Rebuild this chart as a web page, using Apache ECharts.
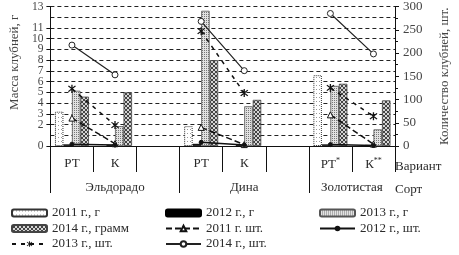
<!DOCTYPE html>
<html><head><meta charset="utf-8">
<script src="https://cdn.jsdelivr.net/npm/echarts@6/dist/echarts.min.js"></script>
<style>html,body{margin:0;padding:0;background:#fff}#c{width:459px;height:255px}</style>
</head><body><div id="c"></div>
<script>
// ---- data ----
const categories = ['РТ', 'К', '', 'РТ', 'К', '', 'РТ*', 'К**'];
const varieties = ['Эльдорадо', 'Дина', 'Золотистая'];
const varietyCenters = [1.5, 4.5, 7];
const varietyBounds = [0, 3, 6];
const mass2011 = [3.2, null, null, 1.85, null, null, 6.6, null];
const mass2012 = [0.15, 0.1, null, 0.2, 0.1, null, 0.15, 0.1];
const mass2013 = [5.15, 1.85, null, 12.6, 3.7, null, 5.6, 1.55];
const mass2014 = [4.6, 5.0, null, 8.0, 4.3, null, 5.8, 4.25];
const count2011 = [60, 5, null, 40, 3, null, 67, 4];
const count2012 = [4, 2, null, 8, 2, null, 3, 1];
const count2013 = [123, 45, null, 247, 114, null, 125, 64];
const count2014 = [217, 153, null, 268, 162, null, 285, 198];
const leftTicks = {min: 0, max: 13, step: 1};
const rightTicks = {min: 0, max: 300, step: 50};

// ---- patterns ----
function pattern(w, h, bg, fg, pts) {
  const c = document.createElement('canvas'); c.width = w; c.height = h;
  const g = c.getContext('2d'); g.fillStyle = bg; g.fillRect(0, 0, w, h);
  g.fillStyle = fg; pts.forEach(p => g.fillRect(p[0], p[1], 1, 1));
  return {image: c, repeat: 'repeat'};
}
const p2011 = pattern(3, 4, '#ffffff', '#9a9a9a', [[1, 1]]);
const p2013 = pattern(2, 2, '#e2e2e2', '#777777', [[0, 0]]);
const p2014 = pattern(4, 4, '#d4d4d4', '#444444', [[0,0],[1,1],[2,2],[3,3],[3,0],[2,1],[1,2],[0,3]]);

function asterisk() {
  const L = 10, w = 1.3; let s = 'path://';
  [90, 45, 135].forEach(a => {
    const r = a * Math.PI / 180, dx = Math.cos(r), dy = Math.sin(r), nx = -dy, ny = dx;
    const pts = [[L*dx + w*nx, L*dy + w*ny], [L*dx - w*nx, L*dy - w*ny], [-L*dx - w*nx, -L*dy - w*ny], [-L*dx + w*nx, -L*dy + w*ny]];
    s += 'M' + pts.map(p => p[0].toFixed(2) + ' ' + p[1].toFixed(2)).join(' L') + ' Z ';
  });
  return s;
}

const FONT = 'Liberation Serif';
const TXT = '#2a2a2a';
const chart = echarts.init(document.getElementById('c'), null, {renderer: 'canvas'});
const barCommon = {type: 'bar', barWidth: 8.5, barGap: '0%', xAxisIndex: 0, yAxisIndex: 0};
const lineCommon = {type: 'line', xAxisIndex: 0, yAxisIndex: 1, connectNulls: false};
const legendCommon = {orient: 'vertical', top: 206, height: 49, padding: 0, itemWidth: 35, itemHeight: 7, itemGap: 1.5,
  textStyle: {fontFamily: FONT, fontSize: 13, color: TXT, lineHeight: 14}, selectedMode: false};

chart.setOption({
  animation: false,
  textStyle: {fontFamily: FONT},
  grid: {left: 44, right: 54, top: 5, bottom: 109},
  legend: [
    Object.assign({left: 11, data: ['2011 г., г', '2014 г., грамм', '2013 г., шт.']}, legendCommon),
    Object.assign({left: 165, data: ['2012 г., г', '2011 г. шт.', '2014 г., шт.']}, legendCommon),
    Object.assign({left: 319, data: ['2013 г., г', '2012 г., шт.']}, legendCommon)
  ],
  xAxis: [{
    type: 'category', data: categories, position: 'bottom',
    axisLine: {lineStyle: {color: '#111', width: 1}},
    axisTick: {show: true, interval: 0, length: 26, lineStyle: {color: '#111'}},
    axisLabel: {interval: 0, margin: 11, fontSize: 13, color: TXT, fontFamily: FONT,
      formatter: v => { const m = v.match(/^([^*]*)(\**)$/); return m[2] ? m[1] + '{s|' + m[2] + '}' : v; },
      rich: {s: {fontSize: 8, padding: [0, 0, 7, 0], color: TXT, fontFamily: FONT}}},
    name: 'Вариант', nameLocation: 'end', nameGap: 0,
    nameTextStyle: {fontFamily: FONT, fontSize: 13, color: TXT, align: 'left', verticalAlign: 'top', padding: [14, 0, 0, 0]}
  }, {
    type: 'value', min: 0, max: categories.length, position: 'bottom',
    axisLine: {show: false}, splitLine: {show: false},
    axisTick: {show: true, customValues: varietyBounds, length: 47, lineStyle: {color: '#111'}},
    axisLabel: {customValues: varietyCenters, margin: 35, fontSize: 13, color: TXT, fontFamily: FONT,
      formatter: v => varieties[varietyCenters.indexOf(v)] || ''},
    name: 'Сорт', nameLocation: 'end', nameGap: 0,
    nameTextStyle: {fontFamily: FONT, fontSize: 13, color: TXT, align: 'left', verticalAlign: 'top', padding: [37, 0, 0, 0]}
  }],
  yAxis: [{
    type: 'value', min: leftTicks.min, max: leftTicks.max, interval: leftTicks.step,
    axisLine: {show: true, lineStyle: {color: '#111'}},
    axisTick: {show: true, length: 4, lineStyle: {color: '#111'}},
    axisLabel: {fontSize: 11.5, lineHeight: 10, color: '#444', margin: 7, fontFamily: FONT, hideOverlap: false,
      showMinLabel: true, showMaxLabel: true},
    splitLine: {show: true, lineStyle: {color: '#222', type: [4, 3], width: 1}},
    name: 'Масса клубней, г', nameLocation: 'middle', nameRotate: 90, nameGap: 29,
    nameTextStyle: {fontFamily: FONT, fontSize: 13, color: '#444', padding: [0, 0, 0, 28]}
  }, {
    type: 'value', min: rightTicks.min, max: rightTicks.max, interval: rightTicks.step, position: 'right',
    axisLine: {show: true, lineStyle: {color: '#111'}},
    axisTick: {show: true, length: 4, lineStyle: {color: '#111'}},
    minorTick: {show: true, splitNumber: 2, length: 3, lineStyle: {color: '#111'}},
    axisLabel: {fontSize: 13, color: '#444', margin: 8, fontFamily: FONT, showMaxLabel: true},
    splitLine: {show: false},
    name: 'Количество клубней, шт.', nameLocation: 'middle', nameRotate: 90, nameGap: 43,
    nameTextStyle: {fontFamily: FONT, fontSize: 13, color: '#444'}
  }],
  series: [
    Object.assign({name: '2011 г., г', data: mass2011,
      itemStyle: {color: p2011, borderColor: '#333', borderWidth: 1, borderType: 'dotted'}}, barCommon),
    Object.assign({name: '2012 г., г', data: mass2012,
      itemStyle: {color: '#000', borderColor: '#000', borderWidth: 0.5}}, barCommon),
    Object.assign({name: '2013 г., г', data: mass2013,
      itemStyle: {color: p2013, borderColor: '#555', borderWidth: 0.8}}, barCommon),
    Object.assign({name: '2014 г., грамм', data: mass2014,
      itemStyle: {color: p2014, borderColor: '#444', borderWidth: 0.8}}, barCommon),
    Object.assign({name: '2011 г. шт.', data: count2011, symbol: 'triangle', symbolSize: 6,
      lineStyle: {color: '#111', width: 1.5, type: [6, 3]},
      itemStyle: {color: '#fff', borderColor: '#111', borderWidth: 1}}, lineCommon),
    Object.assign({name: '2012 г., шт.', data: count2012, symbol: 'circle', symbolSize: 4,
      lineStyle: {color: '#111', width: 1.5},
      itemStyle: {color: '#111', borderColor: '#111'}}, lineCommon),
    Object.assign({name: '2013 г., шт.', data: count2013, symbol: asterisk(), symbolSize: 8,
      lineStyle: {color: '#111', width: 1.5, type: [4, 5]},
      itemStyle: {color: '#111', borderColor: '#111', borderWidth: 0}}, lineCommon),
    Object.assign({name: '2014 г., шт.', data: count2014, symbol: 'circle', symbolSize: 6,
      lineStyle: {color: '#222', width: 1.2},
      itemStyle: {color: '#fff', borderColor: '#222', borderWidth: 1}}, lineCommon)
  ]
});
</script></body></html>
